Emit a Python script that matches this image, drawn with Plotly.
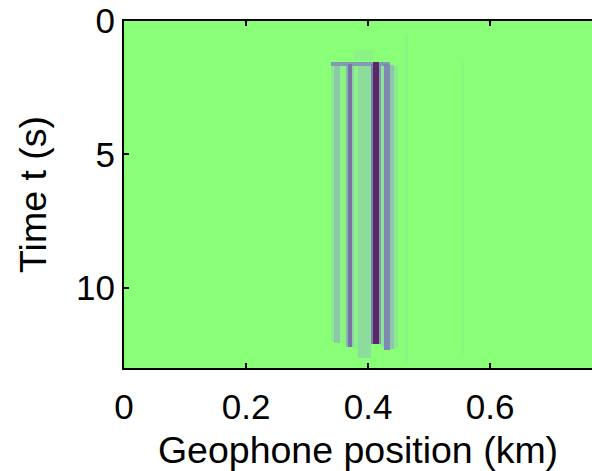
import plotly.graph_objects as go

# ---- data ----
# geophone columns: edges (km); one more edge than columns
x_edges_km = [0.0, 0.3393, 0.3443, 0.3541, 0.3639, 0.3672, 0.3738, 0.3770, 0.3836,
              0.4049, 0.4082, 0.4180, 0.4213, 0.4262, 0.4361, 0.4426, 0.4492,
              0.4607, 0.4656, 0.5541, 0.5574, 0.80]
# relative amplitude of each column's energy (0 = background)
col_amp = [0, 0.10, 0.26, 0.05, 0.35, 0.62, 0.22, 0.06, 0.16, 0.55, 1.00, 0.45,
           0.12, 0.52, 0.28, 0.10, 0, 0.05, 0, 0.04, 0]
# time window (s) in which each column carries energy
col_t_start = [0, 1.6, 1.6, 1.6, 1.6, 1.6, 1.6, 1.6, 1.6, 1.6, 1.55, 1.6, 1.6,
               1.6, 1.65, 1.7, 0, 0.5, 0, 1.5, 0]
col_t_end = [0, 12.0, 12.05, 12.05, 12.2, 12.22, 12.2, 12.3, 12.63, 12.1, 12.1,
             12.1, 12.2, 12.33, 12.3, 12.25, 0, 12.8, 0, 12.5, 0]

# first-arrival bar across the stripes
bar_t = [1.55, 1.68]
bar_cols = [1, 2, 3, 4, 5, 6, 7, 8, 9, 10, 11, 12, 13]
bar_amp = 0.45
# faint speckle above the arrival
pre_t = [1.1, 1.45]
pre_cols = [7, 8, 9]
pre_amp = 0.06

x_ticks = [0, 0.2, 0.4, 0.6]
x_tick_text = ["0", "0.2", "0.4", "0.6"]
y_ticks = [0, 5, 10]
y_tick_text = ["0", "5", "10"]

# ---- build the image grid from the lists above ----
times = set([0.0, 13.2] + col_t_start + col_t_end + bar_t + pre_t)
y_edges = sorted(t for t in times if 0.0 <= t <= 13.2)
ncol = len(col_amp)
z = []
for i in range(len(y_edges) - 1):
    tm = 0.5 * (y_edges[i] + y_edges[i + 1])
    row = []
    for j in range(ncol):
        v = col_amp[j] if col_t_start[j] <= tm < col_t_end[j] else 0.0
        if j in bar_cols and bar_t[0] <= tm < bar_t[1]:
            v = max(v, bar_amp)
        if j in pre_cols and pre_t[0] <= tm < pre_t[1]:
            v = max(v, pre_amp)
        row.append(v)
    z.append(row)

colorscale = [
    [0.0, "rgb(137,255,120)"],
    [0.12, "rgb(140,228,150)"],
    [0.3, "rgb(140,195,172)"],
    [0.55, "rgb(125,128,178)"],
    [0.8, "rgb(110,78,140)"],
    [1.0, "rgb(90,40,100)"],
]

fig = go.Figure(go.Heatmap(
    x=x_edges_km, y=y_edges, z=z,
    colorscale=colorscale, zmin=0, zmax=1, showscale=False,
    hoverinfo="skip",
))

font_family = "Liberation Sans, Arial, Helvetica, sans-serif"
fig.update_layout(
    width=592, height=471,
    margin=dict(l=124, r=0, t=21, b=103),
    paper_bgcolor="white", plot_bgcolor="white",
    font=dict(family=font_family, size=35, color="black"),
    showlegend=False,
)
fig.update_xaxes(
    range=[0, 0.767], tickvals=x_ticks, ticktext=x_tick_text,
    ticks="inside", ticklen=5, tickwidth=1.5, tickcolor="black",
    showline=True, linewidth=2, linecolor="black", mirror="ticks",
    showgrid=False, zeroline=False,
    tickfont=dict(size=35), ticklabelstandoff=7,
    title=dict(text="Geophone position (km)", font=dict(size=37.5), standoff=12),
)
fig.update_yaxes(
    range=[13.0, 0], tickvals=y_ticks, ticktext=y_tick_text,
    ticks="inside", ticklen=5, tickwidth=1.5, tickcolor="black",
    showline=True, linewidth=2, linecolor="black", mirror=False,
    showgrid=False, zeroline=False,
    tickfont=dict(size=35),
    title=dict(text="Time t (s)", font=dict(size=37.5), standoff=18),
)

fig.write_html("out.html")
